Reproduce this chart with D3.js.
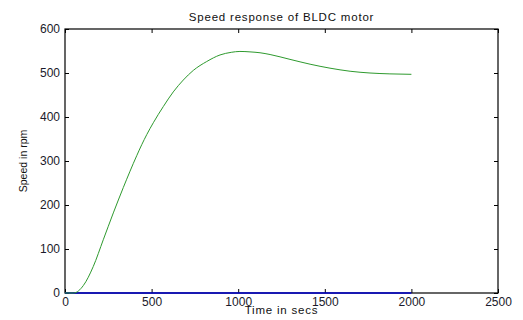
<!DOCTYPE html>
<html><head><meta charset="utf-8">
<script src="https://cdn.jsdelivr.net/npm/d3@7"></script>
<style>body{margin:0;background:#fff}svg{display:block}</style>
</head><body>
<script>
const title = "Speed response of BLDC motor";
const xLabel = "Time in secs";
const yLabel = "Speed in rpm";
const xTicks = [0, 500, 1000, 1500, 2000, 2500];
const yTicks = [0, 100, 200, 300, 400, 500, 600];
const speedTime = [0, 50, 106, 163, 221, 279, 337, 414, 443, 472, 510, 568, 625, 683, 741, 818, 895, 960, 1010, 1068, 1126, 1184, 1299, 1415, 1530, 1646, 1761, 1876, 2000];
const speedValue = [0, 0, 17, 60, 121, 182, 240, 312, 337, 360, 387, 424, 457, 484, 506, 526, 541, 547, 549, 548, 546, 542, 531, 520, 511, 504, 500, 498, 497];
const refTime = [0, 2000];
const refValue = [0, 0];

const W = 523, H = 320;
const m = {left: 65, right: 25, top: 29, bottom: 27};
const svg = d3.select("body").append("svg").attr("width", W).attr("height", H);
const x = d3.scaleLinear().domain([0, 2500]).range([m.left, W - m.right]);
const y = d3.scaleLinear().domain([0, 600]).range([H - m.bottom, m.top]);
const font = "Liberation Sans, Arial, sans-serif";

const tl = 4;
function style(g){
  g.selectAll(".domain").remove();
  g.selectAll("line").attr("stroke", "#000");
  g.selectAll("text").attr("font-family", font).attr("font-size", 12).attr("fill", "#1a1a2a");
}
svg.append("g").attr("transform", `translate(0,${y(0)})`)
  .call(d3.axisBottom(x).tickValues(xTicks).tickSize(-tl).tickPadding(4).tickFormat(d3.format("d"))).call(style);
svg.append("g").attr("transform", `translate(0,${y(600)})`)
  .call(d3.axisTop(x).tickValues(xTicks).tickSize(-tl).tickFormat("")).call(style);
svg.append("g").attr("transform", `translate(${x(0)},0)`)
  .call(d3.axisLeft(y).tickValues(yTicks).tickSize(-tl).tickPadding(5).tickFormat(d3.format("d"))).call(style);
svg.append("g").attr("transform", `translate(${x(2500)},0)`)
  .call(d3.axisRight(y).tickValues(yTicks).tickSize(-tl).tickFormat("")).call(style);

svg.append("rect").attr("x", x(0)).attr("y", y(600)).attr("width", x(2500) - x(0)).attr("height", y(0) - y(600))
  .attr("fill", "none").attr("stroke", "#000").attr("stroke-width", 1.2);

const line = d3.line().curve(d3.curveMonotoneX);
svg.append("path").attr("d", line(refTime.map((t, i) => [x(t), y(refValue[i])])))
  .attr("fill", "none").attr("stroke", "#0000cc").attr("stroke-width", 1.6);
svg.append("path").attr("d", line(speedTime.map((t, i) => [x(t), y(speedValue[i])])))
  .attr("fill", "none").attr("stroke", "#2e9a2e").attr("stroke-width", 1);

const cx = (x(0) + x(2500)) / 2;
svg.append("text").attr("x", cx).attr("y", 21).attr("text-anchor", "middle")
  .attr("font-family", font).attr("font-size", 11.5).attr("letter-spacing", 0.8).attr("fill", "#111").text(title);
svg.append("text").attr("x", cx).attr("y", 314).attr("text-anchor", "middle")
  .attr("font-family", font).attr("font-size", 11.5).attr("letter-spacing", 0.8).attr("fill", "#111").text(xLabel);
svg.append("text").attr("transform", `translate(27,${(y(0) + y(600)) / 2}) rotate(-90)`).attr("text-anchor", "middle")
  .attr("font-family", font).attr("font-size", 10.5).attr("fill", "#111").text(yLabel);
</script>
</body></html>
